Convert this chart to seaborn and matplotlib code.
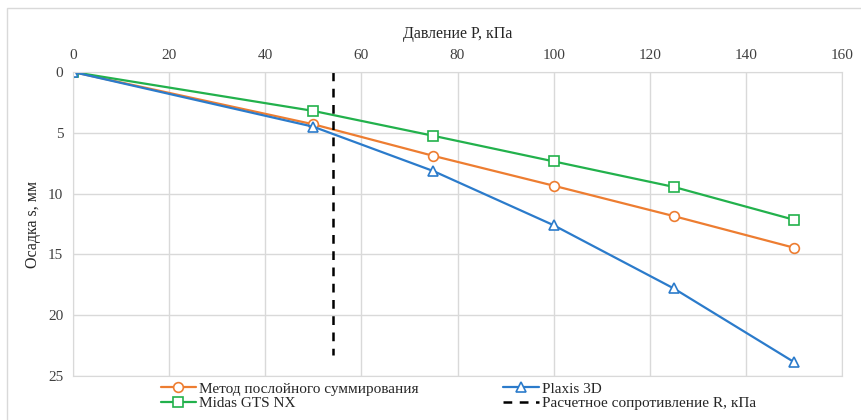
import numpy as np
import pandas as pd
import matplotlib
matplotlib.use("Agg")
import matplotlib.pyplot as plt
import seaborn as sns
from matplotlib.patches import Rectangle

# данные
pressure = [0, 50, 75, 100, 125, 150]
s_layer = [0, 4.3, 6.9, 9.35, 11.85, 14.45]
s_plaxis = [0, 4.5, 8.15, 12.6, 17.8, 23.85]
s_midas = [0, 3.2, 5.25, 7.35, 9.45, 12.15]
r_value = [54.2, 54.2]
r_depth = [0, 23.3]

sns.set_style("white")
plt.rcParams['font.family'] = ['Liberation Serif', 'DejaVu Serif']
plt.rcParams['axes.unicode_minus'] = False

fig = plt.figure(figsize=(8.62, 4.2), dpi=100)
ax = fig.add_axes([73/862, 1-376/420, (842-73)/862, (376-72)/420])

fig.patches.append(Rectangle((7/862, -0.01), 1, 1-8/420+0.01, transform=fig.transFigure,
                             fill=False, edgecolor='#d9d9d9', lw=1.0))

mk = dict(markersize=7, markerfacecolor='white', markeredgewidth=1.2, linewidth=1.6)
sns.lineplot(x=pressure, y=s_layer, color='#ED7D31', marker='o', markeredgecolor='#ED7D31',
             label='Метод послойного суммирования', ax=ax, **mk)
sns.lineplot(x=pressure, y=s_midas, color='#22B14C', marker='s', markeredgecolor='#22B14C',
             label='Midas GTS NX', ax=ax, **mk)
sns.lineplot(x=pressure, y=s_plaxis, color='#2B7BCB', marker='^', markeredgecolor='#2B7BCB',
             label='Plaxis 3D', ax=ax, **mk)
sns.lineplot(x=r_value, y=r_depth, estimator=None, sort=False, color='black',
             linestyle=(0, (3.5, 3)), linewidth=1.8,
             label='Расчетное сопротивление R, кПа', ax=ax)

ax.set_xlim(0, 160)
ax.set_ylim(25, 0)
ax.set_xticks(np.arange(0, 161, 20))
ax.set_yticks(np.arange(0, 26, 5))
ax.xaxis.tick_top()
ax.xaxis.set_label_position('top')
ax.tick_params(length=0, labelsize=11, colors='#404040', pad=7)
ax.grid(True, color='#d9d9d9', lw=1)
for sp in ax.spines.values():
    sp.set_color('#d9d9d9')
ax.set_xlabel('Давление P, кПа', fontsize=11.5, labelpad=8)
ax.set_ylabel('Осадка s, мм', fontsize=11.5, labelpad=5)

leg = ax.legend(loc='upper center', bbox_to_anchor=(0.501, 0.0), ncol=2, frameon=False,
                fontsize=11, handlelength=2.3, handletextpad=0.2, columnspacing=5.55,
                labelspacing=0.05, borderaxespad=0)

fig.savefig('out.png', dpi=100)
